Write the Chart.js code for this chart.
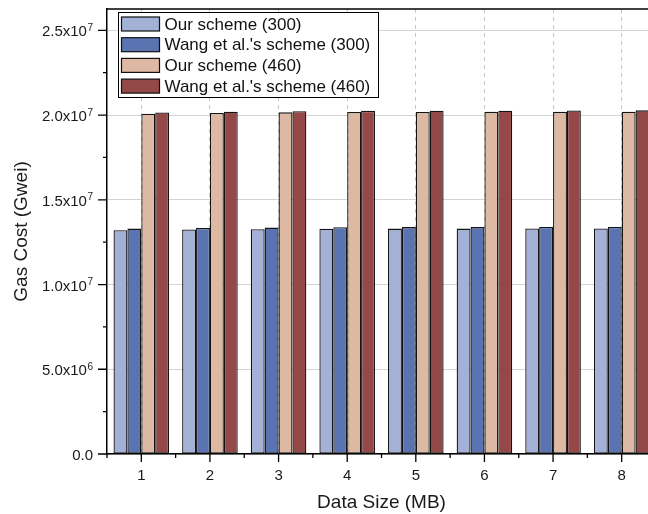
<!DOCTYPE html>
<html>
<head>
<meta charset="utf-8">
<script src="https://cdn.jsdelivr.net/npm/chart.js@4.4.1/dist/chart.umd.min.js"></script>
<style>
  html, body { margin: 0; padding: 0; overflow: hidden; background: #fff; width: 648px; height: 514px; }
  #wrap { width: 700px; height: 514px; }
</style>
</head>
<body>
<div id="wrap"><canvas id="c" width="700" height="514"></canvas></div>
<script>
// ---- data ----
const categories = ['1', '2', '3', '4', '5', '6', '7', '8'];
const seriesNames = ['Our scheme (300)', "Wang et al.'s scheme (300)", 'Our scheme (460)', "Wang et al.'s scheme (460)"];
const ourScheme300  = [1.321e7, 1.325e7, 1.327e7, 1.329e7, 1.330e7, 1.330e7, 1.331e7, 1.331e7];
const wangScheme300 = [1.330e7, 1.334e7, 1.336e7, 1.338e7, 1.339e7, 1.339e7, 1.340e7, 1.340e7];
const ourScheme460  = [2.008e7, 2.013e7, 2.016e7, 2.018e7, 2.018e7, 2.019e7, 2.019e7, 2.020e7];
const wangScheme460 = [2.015e7, 2.020e7, 2.023e7, 2.025e7, 2.026e7, 2.026e7, 2.027e7, 2.028e7];
const yTickValues   = [0, 5e6, 1e7, 1.5e7, 2e7, 2.5e7];
const yTickMantissa = ['0.0', '5.0x10', '1.0x10', '1.5x10', '2.0x10', '2.5x10'];
const yTickExponent = ['', '6', '7', '7', '7', '7'];
const yMax = 2.626e7;

const colors = ['#a4b1d6', '#5a74b1', '#ddb8a2', '#944848'];
const FONT = '"Liberation Sans", Arial, sans-serif';

const customPlugin = {
  id: 'custom',
  afterDraw(chart) {
    const ctx = chart.ctx;
    const ca = chart.chartArea;
    const xs = chart.scales.x, ys = chart.scales.y;
    ctx.save();
    // top frame
    ctx.strokeStyle = '#000';
    ctx.lineWidth = 1.5;
    ctx.beginPath();
    ctx.moveTo(ca.left, ca.top);
    ctx.lineTo(ca.right + 5, ca.top);
    ctx.stroke();
    // y ticks
    ctx.lineWidth = 1.3;
    ctx.beginPath();
    for (let i = 0; i < yTickValues.length; i++) {
      const y = ys.getPixelForValue(yTickValues[i]);
      ctx.moveTo(ca.left - 9, y); ctx.lineTo(ca.left, y);
      const ym = ys.getPixelForValue(yTickValues[i] + 2.5e6);
      if (ym >= ca.top) { ctx.moveTo(ca.left - 4, ym); ctx.lineTo(ca.left, ym); }
    }
    // x ticks
    const step = xs.getPixelForValue(1) - xs.getPixelForValue(0);
    for (let i = 0; i < categories.length; i++) {
      const x = xs.getPixelForValue(i);
      ctx.moveTo(x, ca.bottom); ctx.lineTo(x, ca.bottom + 8);
      const xb = x - step / 2;
      ctx.moveTo(xb, ca.bottom); ctx.lineTo(xb, ca.bottom + 4);
    }
    ctx.stroke();
    // y tick labels with superscripts
    ctx.fillStyle = '#1a1a1a';
    ctx.textBaseline = 'alphabetic';
    const rightEdge = ca.left - 14;
    for (let i = 0; i < yTickValues.length; i++) {
      const y = ys.getPixelForValue(yTickValues[i]);
      ctx.font = '10px ' + FONT;
      const ew = yTickExponent[i] ? ctx.measureText(yTickExponent[i]).width + 0.5 : 0;
      if (yTickExponent[i]) {
        ctx.textAlign = 'right';
        ctx.fillText(yTickExponent[i], rightEdge, y + 0.5);
      }
      ctx.font = '15px ' + FONT;
      ctx.textAlign = 'right';
      ctx.fillText(yTickMantissa[i], rightEdge - ew, y + 6);
    }
    // legend
    const lx = ca.left + 11.5, ly = 12.5, lw = 260, lh = 85;
    ctx.fillStyle = '#fff';
    ctx.fillRect(lx, ly, lw, lh);
    ctx.strokeStyle = '#000';
    ctx.lineWidth = 1;
    ctx.strokeRect(lx, ly, lw, lh);
    chart.data.datasets.forEach((ds, i) => {
      const cy = 24 + i * 20.7;
      ctx.fillStyle = ds.backgroundColor;
      ctx.fillRect(lx + 3, cy - 7, 38, 14);
      ctx.strokeStyle = '#111';
      ctx.lineWidth = 1.2;
      ctx.strokeRect(lx + 3, cy - 7, 38, 14);
      ctx.fillStyle = '#111';
      ctx.font = '17px ' + FONT;
      ctx.textAlign = 'left';
      ctx.textBaseline = 'middle';
      ctx.fillText(ds.label, lx + 46, cy + 1);
    });
    ctx.restore();
  }
};

const seriesValues = [ourScheme300, wangScheme300, ourScheme460, wangScheme460];

new Chart(document.getElementById('c'), {
  type: 'bar',
  data: {
    labels: categories,
    datasets: seriesValues.map((vals, i) => ({
      label: seriesNames[i],
      data: vals,
      backgroundColor: colors[i],
      borderColor: '#141414',
      borderWidth: 1.3,
      borderSkipped: false,
      categoryPercentage: 0.81,
      barPercentage: 1.0
    }))
  },
  options: {
    responsive: false,
    animation: false,
    devicePixelRatio: 1,
    layout: { padding: { left: 0, top: 9, right: 44, bottom: 0 } },
    plugins: { legend: { display: false }, tooltip: { enabled: false } },
    scales: {
      x: {
        type: 'category',
        offset: true,
        grid: { display: true, offset: false, drawTicks: false, color: '#c8c8c8', lineWidth: 1 },
        border: { display: true, color: '#000', width: 1.5, dash: [4, 4] },
        ticks: { font: { family: FONT, size: 15 }, color: '#1a1a1a', padding: 13, maxRotation: 0 },
        title: { display: true, text: 'Data Size (MB)', font: { family: FONT, size: 19 }, color: '#1a1a1a', padding: { top: 0, bottom: 0 } },
        afterFit(scale) { scale.height = 60; }
      },
      y: {
        min: 0,
        max: yMax,
        grid: { display: true, drawTicks: false, color: '#d4d4d4', lineWidth: 1 },
        border: { display: true, color: '#000', width: 1.5 },
        ticks: { display: false },
        afterBuildTicks(scale) { scale.ticks = yTickValues.map(v => ({ value: v })); },
        title: { display: true, text: 'Gas Cost (Gwei)', font: { family: FONT, size: 19 }, color: '#1a1a1a', padding: { top: 10, bottom: 0 } },
        afterFit(scale) { scale.width = 107; }
      }
    }
  },
  plugins: [customPlugin]
});
</script>
</body>
</html>
